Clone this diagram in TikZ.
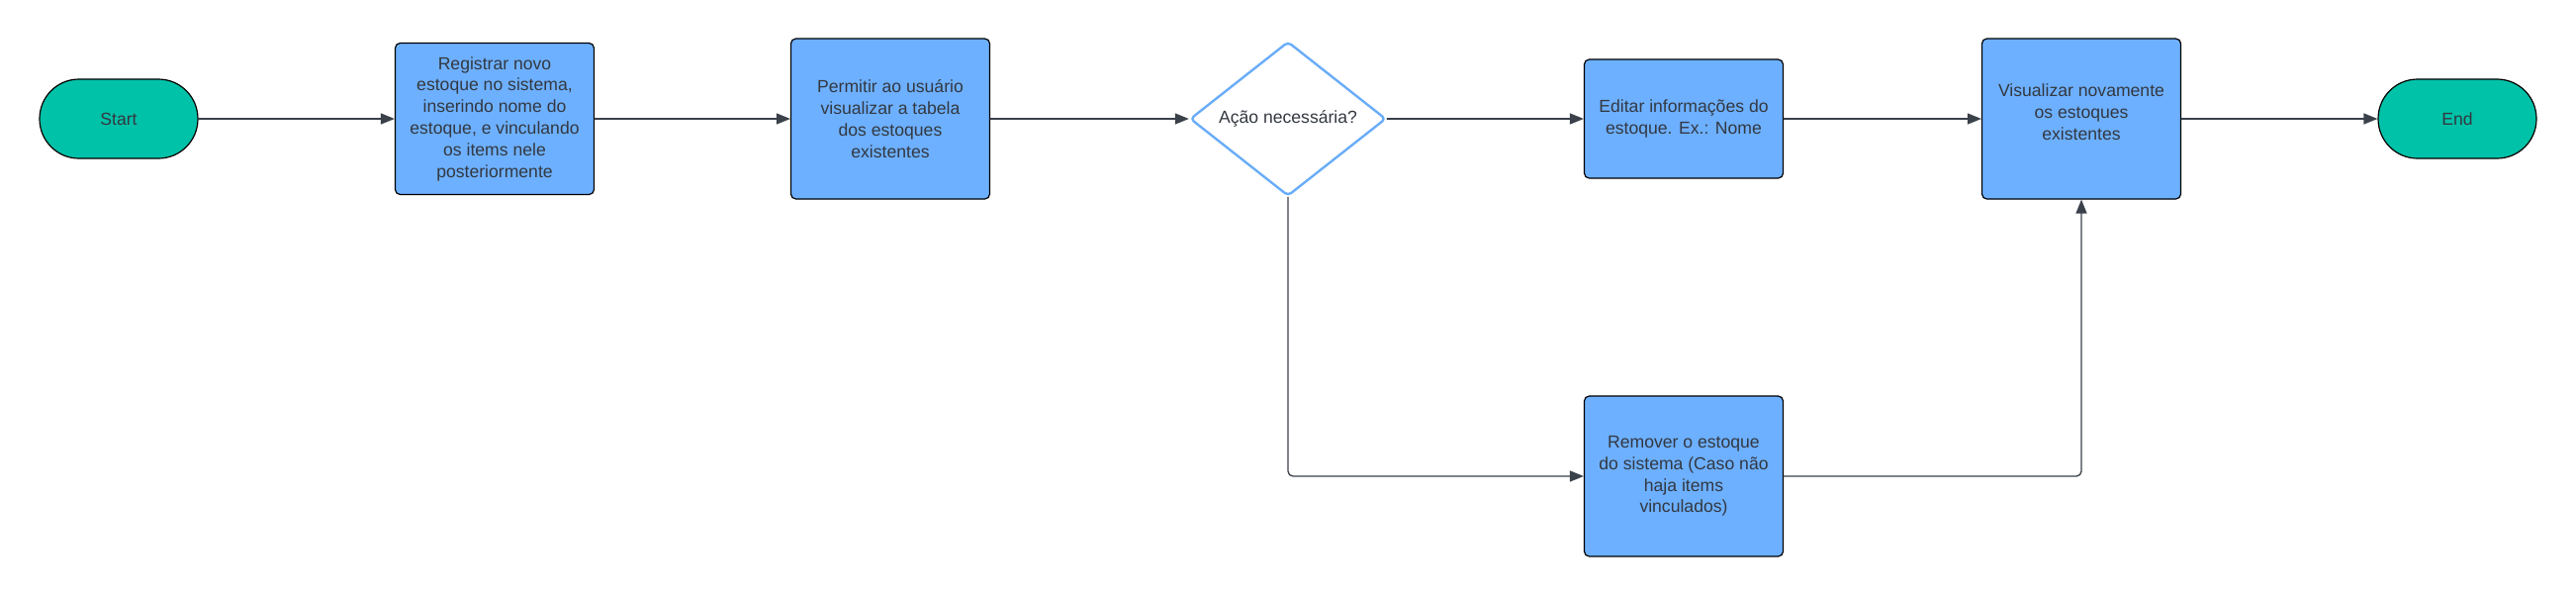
\documentclass[tikz,border=0pt]{standalone}
\usepackage{fontspec}
\setmainfont{Liberation Sans}
\usetikzlibrary{shapes.geometric,arrows.meta}
\definecolor{tealfill}{HTML}{00C2A8}
\definecolor{bluefill}{HTML}{6DB0FF}
\definecolor{diamondline}{HTML}{6AADF8}
\definecolor{linegray}{HTML}{3A414A}
\definecolor{textgray}{HTML}{333840}
\begin{document}
\begin{tikzpicture}[x=0.5pt, y=-0.5pt, line cap=round, line join=round, font=\fontsize{8.8}{10.9}\selectfont, >={Triangle[length=7pt,width=5.5pt]}]
	\tikzset{terminal/.style={draw=black, fill=tealfill, text=textgray, line width=0.6pt, rounded corners=19.9pt, minimum width=80pt, minimum height=40pt, inner sep=0pt},
		process/.style={draw=black, fill=bluefill, text=textgray, line width=0.6pt, rounded corners=2.5pt, minimum width=100.5pt, inner sep=0pt, align=center},
		decision/.style={diamond, draw=diamondline, fill=white, text=textgray, line width=1.2pt, rounded corners=2pt, minimum width=99pt, minimum height=78pt, aspect=1.27, inner sep=0pt},
		link/.style={draw=linegray, line width=0.65pt, ->}}
	\useasboundingbox (0,0) rectangle (2604,602);
	% linha principal
	\node[terminal] (start) at (120,120) {Start};
	\node[process, minimum height=76.5pt] (reg) at (500,120) {Registrar novo\\estoque no sistema,\\inserindo nome do\\estoque, e vinculando\\os items nele\\posteriormente};
	\node[process, minimum height=81pt] (perm) at (900,120) {Permitir ao usuário\\visualizar a tabela\\dos estoques\\existentes};
	\node[decision] (acao) at (1302,120) {Ação necessária?};
	\node[process, minimum height=60pt] (edit) at (1702,120) {Editar informações do\\estoque. Ex.: Nome};
	\node[process, minimum height=81pt] (vis) at (2104,120) {Visualizar novamente\\os estoques\\existentes\\[-4pt]};
	\node[terminal] (fim) at (2484,120) {End};
	% ramo de baixo
	\node[process, minimum height=81pt] (rem) at (1702,481) {Remover o estoque\\do sistema (Caso não\\haja items\\vinculados)};
	\draw[link] (start) -- (reg);
	\draw[link] (reg) -- (perm);
	\draw[link] (perm) -- (acao);
	\draw[link] (acao) -- (edit);
	\draw[link] (edit) -- (vis);
	\draw[link] (vis) -- (fim);
	\draw[link, rounded corners=2.5pt] (acao.south) |- (rem.west);
	\draw[link, rounded corners=2.5pt] (rem.east) -| (vis.south);
\end{tikzpicture}
\end{document}
